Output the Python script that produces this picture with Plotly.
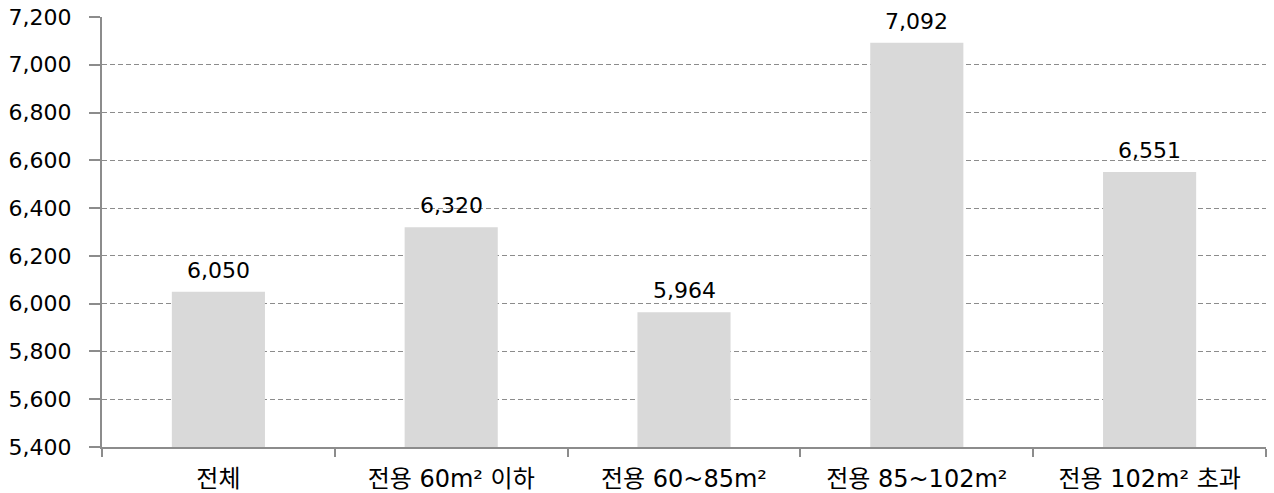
import plotly.graph_objects as go

categories = ["전체", "전용 60m² 이하", "전용 60~85m²", "전용 85~102m²", "전용 102m² 초과"]
values = [6050, 6320, 5964, 7092, 6551]
y_base = 5400
y_ticks = [5400, 5600, 5800, 6000, 6200, 6400, 6600, 6800, 7000, 7200]
y_tick_labels = ["5,400", "5,600", "5,800", "6,000", "6,200", "6,400", "6,600", "6,800", "7,000", "7,200"]

FONT = "DejaVu Sans, Noto Sans CJK KR, sans-serif"

fig = go.Figure()
fig.add_trace(go.Bar(
    x=categories, y=[v - y_base for v in values], base=y_base, width=0.4,
    marker=dict(color="#D9D9D9", line=dict(width=0)),
    hoverinfo="skip",
))

for c, v in zip(categories, values):
    fig.add_annotation(x=c, y=v, text=f"{v:,}", showarrow=False,
                       yanchor="bottom", yshift=7,
                       font=dict(family=FONT, size=22, color="#000000"))

fig.update_layout(
    width=1274, height=493,
    margin=dict(l=102, r=8, t=17, b=46),
    paper_bgcolor="white", plot_bgcolor="white",
    showlegend=False,
    font=dict(family=FONT, size=22, color="#000000"),
)
fig.update_xaxes(
    type="category", showline=True, linecolor="#8C8C8C", linewidth=2,
    ticks="outside", tickson="boundaries", ticklen=8, tickcolor="#8C8C8C", tickwidth=2,
    showgrid=False, ticklabelstandoff=9, automargin=False,
    tickfont=dict(family=FONT, size=24, color="#000000"),
)
fig.update_yaxes(
    range=[5400, 7200], tickvals=y_ticks, ticktext=y_tick_labels,
    showline=True, linecolor="#8C8C8C", linewidth=2,
    ticks="outside", ticklen=11, tickcolor="#8C8C8C", tickwidth=2,
    showgrid=True, gridcolor="#8C8C8C", griddash="5px,3px", gridwidth=1,
    zeroline=False, ticklabelstandoff=13, automargin=False,
    tickfont=dict(family=FONT, size=22, color="#000000"),
)

fig.write_html(
    "out.html",
    config={"displayModeBar": False},
    post_script="document.body.style.margin='0';document.body.style.padding='0';",
)
